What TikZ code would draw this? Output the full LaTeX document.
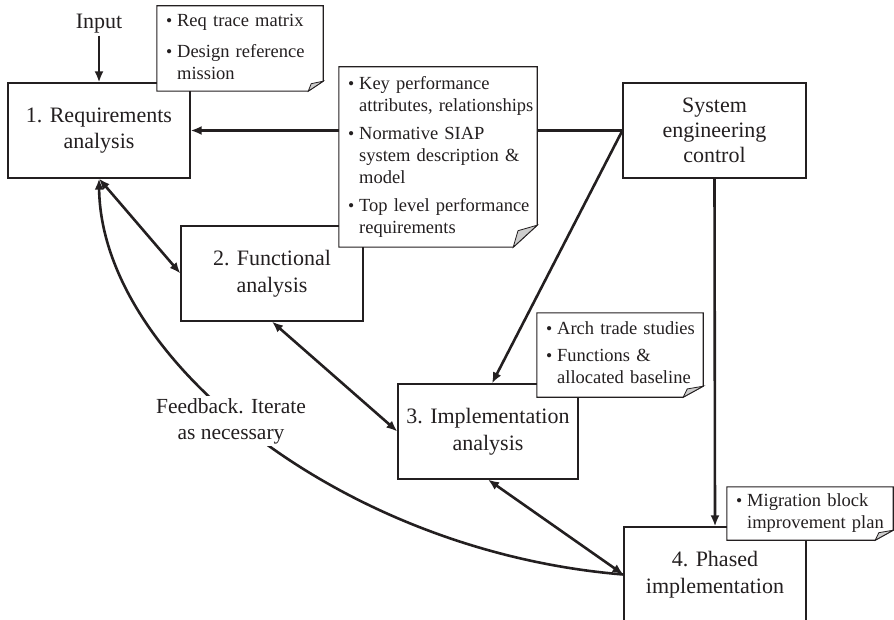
\documentclass[tikz,border=0pt]{standalone}
\usepackage{fontspec}
\setmainfont{Liberation Serif}
\usetikzlibrary{arrows.meta}
\pgfdeclarelayer{bg}
\pgfsetlayers{bg,main}
\definecolor{ink}{RGB}{35,31,32}
\definecolor{foldgray}{RGB}{205,205,205}
\newcommand\nb{\raisebox{0.02em}{\scalebox{0.95}{\textbullet}}}
\newcommand\notepath[3]{%
  \draw[noteline] (#1.north west) -- (#1.north east) -- ([yshift=#3]#1.south east) -- ([xshift=-#2]#1.south east) -- (#1.south west) -- cycle;
  \draw[foldshape] ([yshift=#3]#1.south east) -- ([xshift=-#2]#1.south east) -- ([xshift=-0.8*#2, yshift=0.75*#3]#1.south east) -- cycle;}
\begin{document}
\begin{tikzpicture}[x=1pt,y=-1pt,line join=miter,
  box/.style={draw=ink,fill=white,line width=1.2pt,align=center,inner sep=0pt,
    font=\fontsize{22}{26.5}\selectfont,text=ink,minimum height=95pt},
  notebox/.style={fill=white,inner xsep=9pt,inner ysep=0pt,align=left,
    font=\fontsize{18.5}{22}\selectfont,text=ink},
  noteline/.style={draw=ink,line width=1.1pt},
  foldshape/.style={fill=foldgray,draw=ink,line width=0.8pt},
  conn/.style={draw=ink,line width=2.6pt},
  arr/.style={conn,-{Latex[length=11pt,width=9pt]}},
  darr/.style={conn,{Latex[length=11pt,width=9pt]}-{Latex[length=11pt,width=9pt]}},
  lbl/.style={fill=white,inner sep=2pt,align=center,text=ink,font=\fontsize{21.5}{26}\selectfont}]
\useasboundingbox (0,0) rectangle (894,620);
\clip (0,0) rectangle (894,620);

% boxes
\node[box,minimum width=182pt] (box1) at (99,130.5) {1. Requirements\\analysis};
\node[box,minimum width=182pt] (box2) at (272,273.5) {2. Functional\\analysis};
\node[box,minimum width=180pt] (box3) at (488,431.5) {3. Implementation\\analysis};
\node[box,minimum width=182pt] (box4) at (715,574.5) {4. Phased\\implementation};
\node[box,minimum width=183pt,font=\fontsize{22}{25}\selectfont] (sec) at (714.5,130.5) {System\\engineering\\control};
\node[text=ink,font=\fontsize{22}{26}\selectfont,inner sep=2pt] (input) at (99,24) {Input};

% notes
\node[notebox,minimum height=85pt,text width=148pt] (n1) at (240,48.5) {%
\begin{tabular}{@{}l@{\hspace{5pt}}l@{}}
\nb & Req trace matrix\\[9pt]
\nb & Design reference\\
 & mission
\end{tabular}};
\notepath{n1}{15pt}{10pt}

\node[notebox,minimum height=180pt,text width=180pt] (n2) at (438,157) {%
\begin{tabular}{@{}l@{\hspace{5pt}}l@{}}
\nb & Key performance\\
 & attributes, relationships\\[6pt]
\nb & Normative SIAP\\
 & system description \&\\
 & model\\[6pt]
\nb & Top level performance\\
 & requirements
\end{tabular}};
\notepath{n2}{24pt}{22pt}

\node[notebox,minimum height=84pt,text width=148pt] (n3) at (620,355) {%
\begin{tabular}{@{}l@{\hspace{5pt}}l@{}}
\nb & Arch trade studies\\[5pt]
\nb & Functions \&\\
 & allocated baseline
\end{tabular}};
\notepath{n3}{20pt}{11pt}

\node[notebox,minimum height=53pt,text width=148pt] (n4) at (810,513.5) {%
\begin{tabular}{@{}l@{\hspace{5pt}}l@{}}
\nb & Migration block\\
 & improvement plan
\end{tabular}};
\notepath{n4}{18pt}{10pt}

% feedback label
\node[lbl] (fb) at (231,421) {Feedback. Iterate\\as necessary};

% connectors
\begin{pgfonlayer}{bg}
\draw[arr] (input) -- (box1);
\draw[arr] (sec.west) -- (box1.east);
\draw[arr] (sec.west) -- ([xshift=4pt]box3.north);
\draw[arr] (sec.south) -- (box4.north);
\draw[darr] (box1.south) -- (box2.west);
\draw[darr] (box2.south) -- (box3.west);
\draw[darr] (box3.south) -- (box4.west);
\draw[arr] (box4.west) .. controls +(-283,-23) and +(2,179) .. (box1.south);
\end{pgfonlayer}
\end{tikzpicture}
\end{document}
